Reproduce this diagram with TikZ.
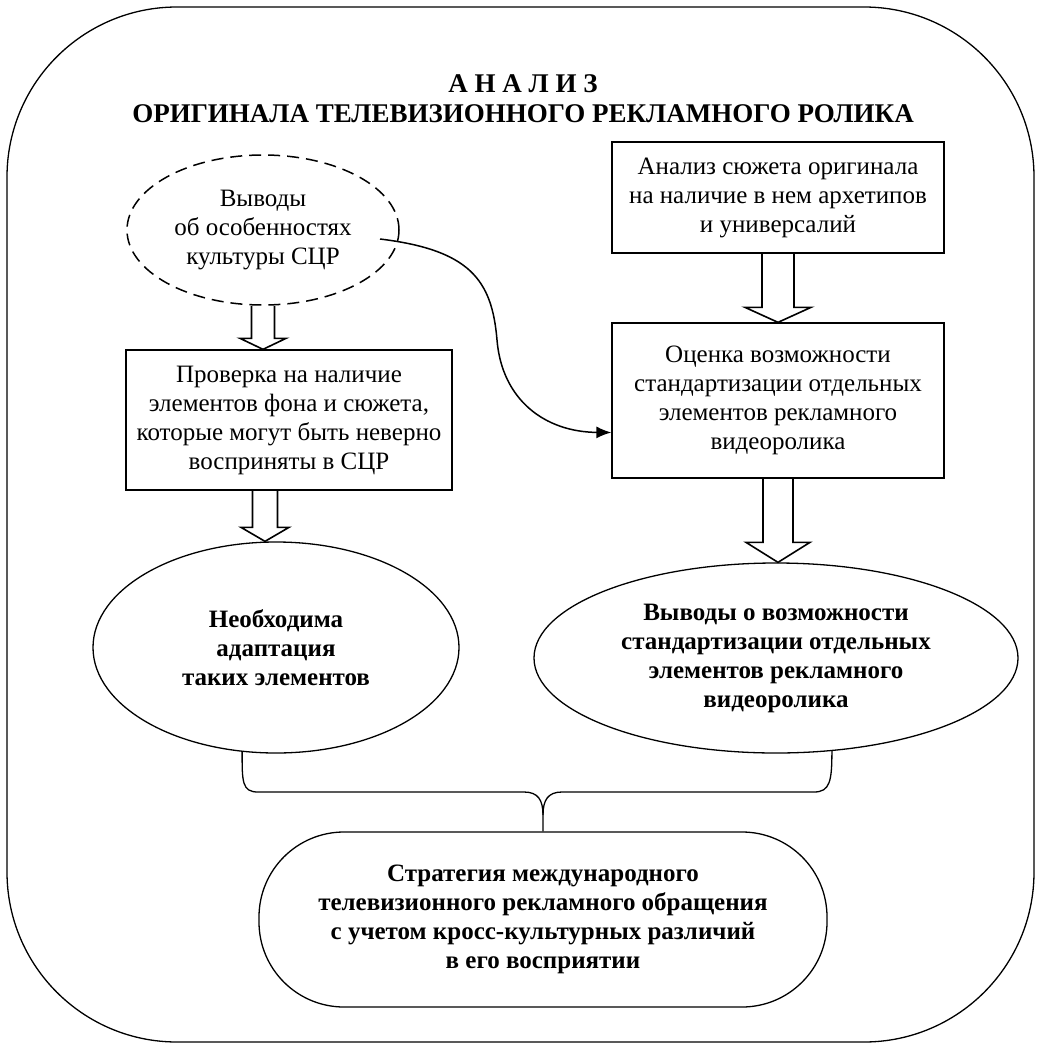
\documentclass[tikz,border=0pt]{standalone}
\usepackage{fontspec}
\setmainfont{Liberation Serif}
\usetikzlibrary{shapes.geometric,arrows.meta,calc}
\newcommand\bodyfs{\fontsize{25}{29}\selectfont}
\newcommand\boldfs{\fontsize{25}{29}\selectfont\bfseries}
\newcommand\titlefs{\fontsize{27}{30}\selectfont\bfseries}
\newcommand\hollowarr[6]{%
  \draw[harrow] let \p0=(#1), \p1=(#2), \p2=(#3) in
    (\x0-#4,\y1) -- (\x0-#4,\y2+#6) -- (\x0-#5,\y2+#6) -- (\x0,\y2)
    -- (\x0+#5,\y2+#6) -- (\x0+#4,\y2+#6) -- (\x0+#4,\y1);
}
\begin{document}
\begin{tikzpicture}[x=1pt,y=-1pt,
  line width=1.3pt,
  boxnode/.style={draw, rectangle, inner sep=0pt, align=center, font=\bodyfs},
  ellnode/.style={draw, ellipse, inner sep=0pt, align=center},
  harrow/.style={line width=1.6pt, line join=miter},
  framebox/.style={line width=1.3pt, rounded corners=170pt},
]
\useasboundingbox (0,0) rectangle (1041,1049);
\draw[framebox] (7,7) rectangle (1034,1042);

\node[font=\titlefs, align=center] (title) at (523,99)
  {А Н А Л И З\\ОРИГИНАЛА ТЕЛЕВИЗИОННОГО РЕКЛАМНОГО РОЛИКА};

\node[ellnode, font=\bodyfs, dash pattern=on 12pt off 7pt, line width=1.5pt,
  minimum width=272pt, minimum height=150pt] (dash) at (263,230)
  {Выводы\\об особенностях\\культуры СЦР};

\node[boxnode, minimum width=332pt, minimum height=111pt] (trbox) at (778,197.5)
  {Анализ сюжета оригинала\\на наличие в нем архетипов\\и универсалий};

\node[boxnode, minimum width=326pt, minimum height=140pt] (leftbox) at (289,420)
  {Проверка на наличие\\элементов фона и сюжета,\\которые могут быть неверно\\восприняты в СЦР};

\node[boxnode, minimum width=332pt, minimum height=155pt] (rbox) at (778,400.5)
  {Оценка возможности\\стандартизации отдельных\\элементов рекламного\\видеоролика};

\node[ellnode, font=\boldfs, minimum width=366pt, minimum height=211pt] (leftell) at (276,647.5)
  {Необходима\\адаптация\\таких элементов};

\node[ellnode, font=\boldfs, minimum width=484pt, minimum height=190pt] (rightell) at (776,658)
  {Выводы о возможности\\стандартизации отдельных\\элементов рекламного\\видеоролика};

\node[draw, rounded corners=85pt, inner sep=0pt, align=center, font=\boldfs,
  minimum width=568pt, minimum height=175pt] (strat) at (543,919.5)
  {Стратегия международного\\телевизионного рекламного обращения\\с учетом кросс-культурных различий\\в его восприятии};

% hollow arrows
\hollowarr{dash.south}{dash.south}{leftbox.north}{11.5pt}{23pt}{11pt}
\hollowarr{$(leftbox.south)+(-24,0)$}{leftbox.south}{leftell.north}{12.5pt}{24pt}{14pt}
\hollowarr{trbox.south}{trbox.south}{rbox.north}{16pt}{33pt}{15pt}
\hollowarr{rbox.south}{rbox.south}{rightell.north}{15pt}{32pt}{20pt}

% curved arrow
\coordinate (cs) at ($(dash.center)+(117,9)$);
\coordinate (ce) at ($(rbox.west)+(0,32)$);
\draw[line width=1.5pt, -{Latex[length=15pt,width=12pt]}]
  (cs) .. controls (470,250) and (492,280) .. (497,340)
  .. controls (502,400) and (545,432) .. (ce);

% brace
\coordinate (bl) at (leftell.-108);
\coordinate (br) at (rightell.-59.5);
\draw (bl) .. controls ($(bl)+(0,30)$) and (242,792) .. (258,792) -- (524,792)
  .. controls (538,792) and (543,800) .. (543,815) -- (strat.north);
\draw (br) .. controls ($(br)+(0,30)$) and (830,792) .. (814,792) -- (562,792)
  .. controls (548,792) and (543,800) .. (543,815);
\end{tikzpicture}
\end{document}
